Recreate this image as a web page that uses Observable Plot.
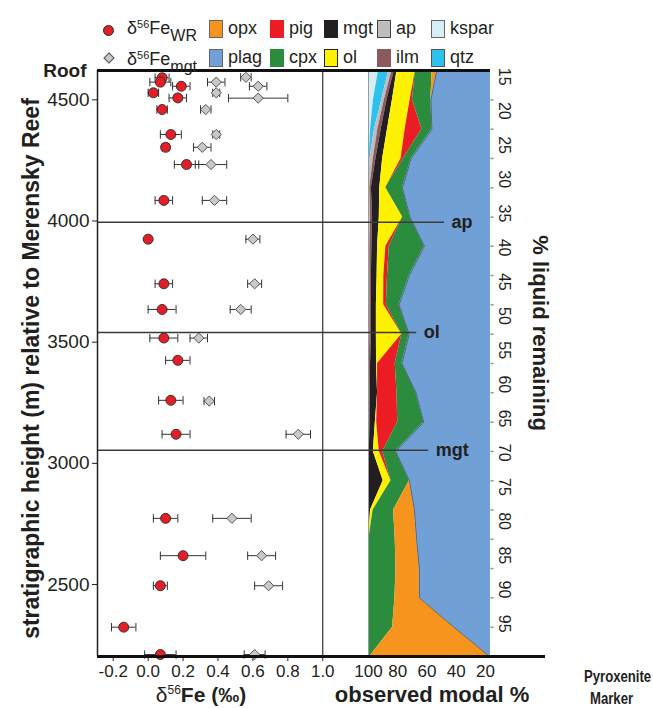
<!DOCTYPE html>
<html><head><meta charset="utf-8">
<script src="https://cdn.jsdelivr.net/npm/d3@7"></script>
<script src="https://cdn.jsdelivr.net/npm/@observablehq/plot@0.6"></script>
<style>
body{margin:0;background:#fff;}
#chart{position:relative;width:653px;height:709px;font-family:"Liberation Sans",Arial,Helvetica,sans-serif;color:#231f20;overflow:hidden;background:#fff}
#chart svg{position:absolute;left:0;top:0;overflow:visible}
.lg{position:absolute;font-size:18px;line-height:1;white-space:nowrap}
.lg sup{font-size:11px;vertical-align:6px}
.lg sub{font-size:16px;vertical-align:-7px}
.sw{position:absolute;width:14px;height:18px;box-sizing:border-box}
.ttl{position:absolute;white-space:nowrap;line-height:1}
</style></head><body><div id="chart"></div>
<script>
// ---------- data ----------
const wrHeight = [4591,4573,4556,4529,4508,4460,4357,4304,4233,4085,3925,3741,3635,3517,3425,3260,3120,2773,2619,2495,2324,2211];
const wrValue  = [0.08,0.07,0.19,0.03,0.17,0.08,0.13,0.10,0.22,0.09,0.00,0.09,0.08,0.09,0.17,0.13,0.16,0.10,0.20,0.07,-0.14,0.07];
const wrErr    = [0.04,0.06,0.05,0.03,0.05,0.03,0.06,0.02,0.07,0.05,0.015,0.05,0.08,0.08,0.07,0.07,0.08,0.07,0.13,0.04,0.07,0.09];
const mgtHeight = [4593,4573,4556,4529,4507,4460,4357,4304,4233,4085,3925,3741,3635,3517,3257,3120,2773,2619,2495,2211];
const mgtValue  = [0.56,0.39,0.63,0.39,0.63,0.33,0.39,0.31,0.36,0.38,0.60,0.61,0.53,0.29,0.35,0.86,0.48,0.65,0.69,0.61];
const mgtErr    = [0.03,0.05,0.05,0.02,0.17,0.03,0.02,0.05,0.09,0.07,0.04,0.04,0.06,0.05,0.03,0.07,0.11,0.08,0.08,0.06];

const markerNames   = ["ap","ol","mgt"];
const markerHeights = [3995,3540,3054];
const markerEnds    = [48,67,58.8];

// modal levels (stratigraphic height) and modal % of each phase, stacked from the left
const levelHeight = [4621,4500,4379,4258,4137,4016,3896,3775,3654,3533,3412,3291,3170,3049,2928,2808,2687,2566,2445,2324,2203];
const kspar = [6.9,3.4,1.4,0.5,0,0,0,0,0,0,0,0,0,0,0,0,0,0,0,0,0];
const qtz   = [6.9,5.7,2.7,0.5,0,0,0,0,0,0,0,0,0,0,0,0,0,0,0,0,0];
const ap    = [2.3,1.8,2.3,2.3,0.9,1.4,0.9,0.9,0.9,0.9,0.5,0.5,0.5,0.3,0,0,0,0,0,0,0];
const ilm   = [1.6,1.8,2.3,1.8,1.1,1.4,1.4,1.1,1.1,1.1,0.9,0.7,0.5,0.3,0,0,0,0,0,0,0];
const mgt   = [1.8,3.7,4.3,4.6,5.7,4.6,3.9,3.9,3.4,3.4,4.1,5.0,3.7,2.7,10.1,1.4,0.2,0,0,0,0];
const ol    = [12.6,12.1,12.1,12.6,4.1,16.0,5.7,4.6,5.0,17.4,0.7,0,0.9,4.1,5.3,1.8,0,0,0,0,0];
const pig   = [0,1.6,11.4,1.6,0,0,2.3,2.5,1.8,0,12.1,13.3,14.4,2.3,0,0,0,0,0,0,0];
const cpx   = [11.4,12.6,6.9,5.3,11.4,5.0,24.0,14.9,8.7,5.0,4.6,13.0,17.8,8.9,12.6,14.0,18.1,18.8,18.1,16.5,0.9];
const opx   = [3.2,0,0,0,0,0,0,0,0,0,0,0,0,0,0,14.2,14.6,16.0,16.7,41.9,81.9];

const mineralNames  = ["kspar","qtz","ap","ilm","mgt","ol","pig","cpx","opx","plag"];
const mineralColors = ["#d6eef5","#2ec1ee","#bdbdbd","#8c5a5c","#231f20","#fff200","#ec1c24","#2b8c3d","#f7941d","#71a0d6"];

const yDomain = [2203,4621];
const feDomain = [-0.29,1.262];
const feTicks = [-0.2,0,0.2,0.4,0.6,0.8,1.0];
const heightTicks = [2500,3000,3500,4000,4500];
const modalDomain = [100,16.5];
const modalTicks = [100,80,60,40,20];
const liquidDomain = [14.1,99.8];
const liquidTicks = [15,20,25,30,35,40,45,50,55,60,65,70,75,80,85,90,95];

// ---------- layout ----------
const W = 653, H = 709;
const FONT = '"Liberation Sans", Arial, Helvetica, sans-serif';
const INK = "#231f20";
const chart = document.getElementById("chart");
const baseStyle = {background:"transparent", fontFamily:FONT, color:INK, overflow:"visible"};

const wr = wrHeight.map((h,i)=>({h, v:wrValue[i], e:wrErr[i]}));
const mg = mgtHeight.map((h,i)=>({h, v:mgtValue[i], e:mgtErr[i]}));
const markers = markerNames.map((name,i)=>({name, h:markerHeights[i], end:markerEnds[i]}));

const vtick = {draw(ctx,size){const r=Math.sqrt(size/Math.PI); ctx.moveTo(0,-r); ctx.lineTo(0,r);}};
const htick = {draw(ctx,size){const r=Math.sqrt(size/Math.PI); ctx.moveTo(0,0); ctx.lineTo(2*r,0);}};

function errMarks(data){
  return [
    Plot.ruleY(data,{y:"h", x1:d=>d.v-d.e, x2:d=>d.v+d.e, stroke:"#333", strokeWidth:1}),
    Plot.dot(data,{x:d=>d.v-d.e, y:"h", symbol:vtick, r:4.2, stroke:"#333", fill:"none", strokeWidth:1}),
    Plot.dot(data,{x:d=>d.v+d.e, y:"h", symbol:vtick, r:4.2, stroke:"#333", fill:"none", strokeWidth:1})
  ];
}

const left = Plot.plot({
  width:W, height:H, marginLeft:97, marginRight:W-368, marginTop:70, marginBottom:H-656,
  style:{...baseStyle, fontSize:"19px"},
  x:{domain:feDomain, ticks:feTicks, tickFormat:d=>d.toFixed(1), tickSize:5, tickPadding:3, label:null},
  y:{domain:yDomain, ticks:heightTicks, tickFormat:d=>String(d), tickSize:5, tickPadding:3, label:null},
  marks:[
    Plot.ruleY(markers,{y:"h", stroke:"#3a3a3a", strokeWidth:1.6}),
    Plot.ruleX([1.0],{stroke:"#333", strokeWidth:1.2}),
    Plot.ruleX([feDomain[0]],{stroke:"#222", strokeWidth:1.5}),
    ...errMarks(mg),
    ...errMarks(wr),
    Plot.dot(mg,{x:"v", y:"h", symbol:"diamond2", r:4.6, fill:"#c8c8c8", stroke:"#555", strokeWidth:1}),
    Plot.dot(wr,{x:"v", y:"h", r:5, fill:"#e41e26", stroke:"#2a2a2a", strokeWidth:0.9}),
    Plot.ruleY([yDomain[0], yDomain[1]],{stroke:"#111", strokeWidth:3}),
    Plot.text(["Roof"],{x:()=>feDomain[0], y:()=>yDomain[1], dx:-11, textAnchor:"end", fontWeight:"bold", fontSize:19, fill:INK}),
    Plot.text(["stratigraphic height (m) relative to Merensky Reef"],{frameAnchor:"left", textAnchor:"middle", dx:-66, dy:5, rotate:-90, fontWeight:"bold", fontSize:23, fill:INK})
  ]
});
left.querySelectorAll('g[aria-label^="x-axis"]').forEach(g=>g.setAttribute("font-size","17"));
chart.appendChild(left);

// stacked modal rows
const modalArrays = [kspar,qtz,ap,ilm,mgt,ol,pig,cpx,opx];
const rows = [];
levelHeight.forEach((h,i)=>{
  let cum = 0;
  modalArrays.forEach((arr,j)=>{
    const x1 = modalDomain[0]-cum; cum += arr[i];
    rows.push({m:mineralNames[j], h, x1, x2:modalDomain[0]-cum});
  });
  rows.push({m:"plag", h, x1:modalDomain[0]-cum, x2:modalDomain[1]});
});
const areaMarks = ["plag",...mineralNames.slice(0,9)].map(m=>
  Plot.areaX(rows.filter(r=>r.m===m),{y:"h", x1:"x1", x2:"x2", fill:mineralColors[mineralNames.indexOf(m)]}));

const right = Plot.plot({
  width:W, height:H, marginLeft:368, marginRight:W-490, marginTop:70, marginBottom:H-656,
  style:{...baseStyle, fontSize:"17px"},
  x:{domain:modalDomain, ticks:modalTicks, tickSize:0, tickPadding:8, label:null},
  y:{domain:yDomain, axis:null},
  marks:[
    ...areaMarks,
    Plot.lineX(rows.filter(r=>r.m==="plag"),{x:"x1", y:"h", stroke:"#3d4f63", strokeWidth:0.7}),
    Plot.ruleX([modalDomain[0]],{stroke:"#9a9a9a", strokeWidth:1}),
    Plot.ruleY(markers,{y:"h", x1:()=>modalDomain[0], x2:"end", stroke:"#3a3a3a", strokeWidth:1.6}),
    Plot.text(markers,{x:"end", y:"h", text:"name", dx:7, textAnchor:"start", fontWeight:"bold", fontSize:18, fill:INK}),
    Plot.dot(levelHeight.slice(1,-1),{x:()=>modalDomain[1], y:d=>d, symbol:htick, r:1.6, stroke:"#999", fill:"none"}),
    Plot.ruleY([yDomain[0], yDomain[1]],{stroke:"#111", strokeWidth:3})
  ]
});
chart.appendChild(right);

const liq = Plot.plot({
  width:W, height:H, marginLeft:490, marginRight:W-545, marginTop:70, marginBottom:H-656,
  style:{...baseStyle, fontSize:"16px"},
  y:{domain:liquidDomain, reverse:true, axis:null},
  marks:[
    Plot.text(liquidTicks,{y:d=>d, text:d=>String(d), frameAnchor:"left", textAnchor:"middle", dx:14, rotate:90, fontSize:16, fill:INK}),
    Plot.text(["% liquid remaining"],{y:()=>52.5, frameAnchor:"left", textAnchor:"middle", dx:50, rotate:90, fontWeight:"bold", fontSize:22, fill:INK}),
    Plot.ruleY([liquidDomain[1]],{stroke:"#111", strokeWidth:3})
  ]
});
chart.appendChild(liq);

// ---------- legend & titles (HTML text) ----------
function add(html, css, cls="lg"){const d=document.createElement("div"); d.className=cls; d.innerHTML=html; Object.assign(d.style,css); chart.appendChild(d); return d;}
add("",{left:"103px",top:"25px",width:"11px",height:"11px",borderRadius:"50%",background:"#e41e26",border:"1px solid #2a2a2a",boxSizing:"border-box"},"sw");
add("",{left:"105px",top:"54px",width:"8px",height:"8px",background:"#c8c8c8",border:"1px solid #555",transform:"rotate(45deg)"},"sw");
add("δ<sup>56</sup>Fe<sub>WR</sub>",{left:"127px",top:"19px"});
add("δ<sup>56</sup>Fe<sub>mgt</sub>",{left:"127px",top:"50px"});
const legendItems = [
  ["opx",209,0,"1.5px solid #666"],["plag",209,1,"1.5px solid #666"],
  ["pig",270,0,"none"],["cpx",270,1,"none"],
  ["mgt",324,0,"none"],["ol",324,1,"1.5px solid #222"],
  ["ap",377,0,"1.5px solid #444"],["ilm",377,1,"none"],
  ["kspar",431,0,"1.5px solid #666"],["qtz",431,1,"1.5px solid #555"]
];
legendItems.forEach(([name,x,row,border])=>{
  const top = row===0 ? 20 : 49;
  add("",{left:x+"px",top:top+"px",background:mineralColors[mineralNames.indexOf(name)],border},"sw");
  add(name,{left:(x+19)+"px",top:(top-1)+"px"});
});
add('δ<sup style="font-size:12px;vertical-align:8px">56</sup><b>Fe (‰)</b>',{left:"201px",top:"684px",fontSize:"21px",transform:"translateX(-50%)"},"ttl");
add("<b>observed modal %</b>",{left:"432px",top:"684px",fontSize:"22px",transform:"translateX(-50%)"},"ttl");
add("<b>Pyroxenite</b>",{left:"584px",top:"669px",fontSize:"16px",transform:"scaleX(0.82)",transformOrigin:"0 0"},"ttl");
add("<b>Marker</b>",{left:"590px",top:"691px",fontSize:"16px",transform:"scaleX(0.82)",transformOrigin:"0 0"},"ttl");
</script></body></html>
